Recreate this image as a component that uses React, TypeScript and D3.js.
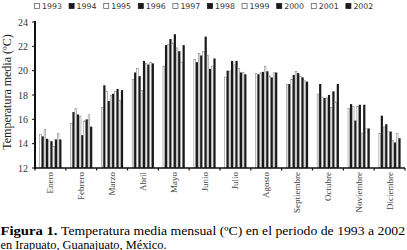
import React from "react";
import * as d3 from "d3";

const months = ["Enero","Febrero","Marzo","Abril","Mayo","Junio","Julio","Agosto","Septiembre","Octubre","Noviembre","Diciembre"];
const years = ["1993","1994","1995","1996","1997","1998","1999","2000","2001","2002"];
const yTicks = [12,14,16,18,20,22,24];

// values[monthIndex][yearIndex]
const enero = [14.8,14.6,15.2,14.4,14.25,14.2,13.8,14.35,14.85,14.35];
const febrero = [15.7,16.6,16.9,16.4,16.3,14.7,15.9,16.0,16.4,15.4];
const marzo = [17.0,18.8,18.3,17.5,18.0,18.1,18.3,18.5,17.6,18.4];
const abril = [19.3,19.85,20.2,19.55,18.4,20.8,20.6,20.5,20.7,20.6];
const mayo = [20.4,22.1,22.2,22.6,22.3,23.0,21.9,21.6,20.7,22.1];
const junio = [20.95,20.7,21.45,21.25,21.6,22.8,21.3,20.15,20.4,21.0];
const julio = [19.5,20.0,20.0,20.8,20.5,20.8,20.2,19.85,19.9,19.7];
const agosto = [19.8,19.7,19.85,19.9,20.4,19.95,19.6,19.45,19.85,19.85];
const septiembre = [18.9,18.9,19.3,19.65,19.95,19.8,19.55,19.45,19.2,19.1];
const octubre = [18.1,18.9,17.85,17.75,17.8,18.0,17.0,18.3,17.45,18.9];
const noviembre = [16.9,17.25,17.1,15.9,17.1,17.2,14.9,17.2,15.25,15.25];
const diciembre = [14.85,16.3,15.4,15.6,15.0,15.0,14.3,14.1,14.85,14.45];
const values = [enero,febrero,marzo,abril,mayo,junio,julio,agosto,septiembre,octubre,noviembre,diciembre];

const W = 407, H = 250;
const left = 35, right = 405, top = 22, bottom = 168;

export default function App() {
  const x = d3.scaleBand<string>().domain(months).range([left, right]).paddingInner(0.285).paddingOuter(0.1425);
  const xi = d3.scaleBand<string>().domain(years).range([0, x.bandwidth()]);
  const y = d3.scaleLinear().domain([12, 24]).range([bottom, top]);
  const step = x.step();
  const serif = "'Liberation Serif', 'Times New Roman', serif";
  return (
    <svg width={W} height={H} style={{ position: "absolute", left: 0, top: 0, background: "#fff" }}>
      {/* legend */}
      {years.map((yr, i) => {
        const lx = 34 + i * 34.6;
        const dark = i % 2 === 1;
        return (
          <g key={yr}>
            <rect x={lx + 0.5} y={3.5} width={5} height={5} fill={dark ? "#1a1a1a" : "#fff"} stroke={dark ? "#1a1a1a" : "#666"} strokeWidth={0.8} />
            <text x={lx + 8} y={9} fontFamily="'DejaVu Sans', sans-serif" fontSize={7.8} fill="#333">{yr}</text>
          </g>
        );
      })}
      {/* bars */}
      {months.map((m, mi) => (
        <g key={m} transform={`translate(${x(m)},0)`}>
          {years.map((yr, yi) => {
            const v = values[mi][yi];
            const dark = yi % 2 === 1;
            const bx = xi(yr)!;
            return dark ? (
              <rect key={yr} x={bx} y={y(v)} width={xi.bandwidth()} height={bottom - y(v)} fill="#1a1a1a" />
            ) : (
              <rect key={yr} x={bx + 0.3} y={y(v) + 0.3} width={xi.bandwidth() - 0.6} height={bottom - y(v) - 0.3} fill="#fff" stroke="#8a8a8a" strokeWidth={0.6} />
            );
          })}
        </g>
      ))}
      {/* y axis */}
      <line x1={left} x2={left} y1={top - 1} y2={bottom + 1} stroke="#111" strokeWidth={2} />
      {yTicks.map(t => (
        <g key={t}>
          <line x1={left - 3} x2={left} y1={y(t)} y2={y(t)} stroke="#111" strokeWidth={1} />
          <text x={28} y={y(t) + 3.5} textAnchor="end" fontFamily={serif} fontSize={10} fill="#333">{t}</text>
        </g>
      ))}
      {/* x axis */}
      <line x1={left} x2={right} y1={bottom} y2={bottom} stroke="#111" strokeWidth={1.5} />
      {d3.range(13).map(i => (
        <line key={i} x1={left + i * step} x2={left + i * step} y1={bottom} y2={bottom + 2.5} stroke="#111" strokeWidth={1.2} />
      ))}
      {months.map(m => {
        const cx = x(m)! + x.bandwidth() / 2;
        return (
          <text key={m} transform={`translate(${cx + 3},${172}) rotate(-90)`} textAnchor="end" fontFamily={serif} fontSize={9} fill="#444">{m}</text>
        );
      })}
      {/* y label */}
      <text transform={`translate(11,${92}) rotate(-90)`} textAnchor="middle" fontFamily={serif} fontSize={12} fill="#222">Temperatura media (ºC)</text>
      {/* caption */}
      <text x={0.5} y={235} fontFamily={serif} fontSize={11.5} fontWeight="bold" fill="#000" textLength={57} lengthAdjust="spacingAndGlyphs">Figura 1.</text>
      <text x={61} y={235} fontFamily={serif} fontSize={11.5} fill="#000" textLength={344} lengthAdjust="spacingAndGlyphs">Temperatura media mensual (ºC) en el periodo de 1993 a 2002</text>
      <text x={0.5} y={248.5} fontFamily={serif} fontSize={11.5} fill="#000" textLength={166} lengthAdjust="spacingAndGlyphs">en Irapuato, Guanajuato, México.</text>
    </svg>
  );
}
